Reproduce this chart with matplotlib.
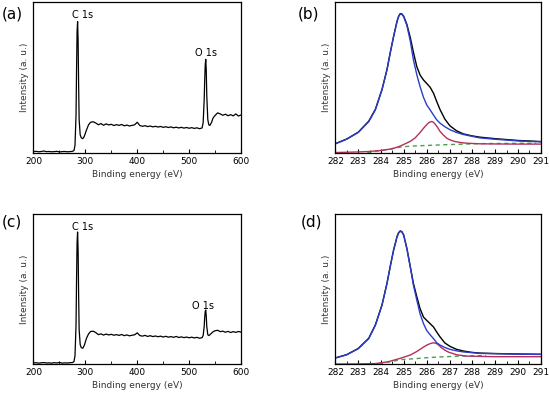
import matplotlib
matplotlib.use("Agg")
import matplotlib.pyplot as plt
from matplotlib.ticker import MultipleLocator

# ---- survey spectra (binding energy in eV, intensity in a.u.) ----
survey_x = [200, 205, 210, 215, 220, 225, 230, 235, 240, 245, 250, 255, 260, 265, 270, 275,
            278, 280, 282, 283, 284, 285, 286, 287, 288, 290, 292, 295, 298, 302, 306, 310,
            315, 320, 325, 330, 335, 340, 345, 350, 355, 360, 365, 370, 375, 380, 385, 390,
            395, 400, 405, 410, 415, 420, 425, 430, 435, 440, 445, 450, 455, 460, 465, 470,
            475, 480, 485, 490, 495, 500, 505, 510, 515, 520, 525, 527, 529, 530, 531, 532,
            533, 534, 536, 538, 540, 543, 546, 550, 555, 560, 565, 570, 575, 580, 585, 590,
            595, 600]
survey_a = [0.8, 1.0, 0.7, 0.9, 1.2, 0.8, 0.9, 0.7, 0.8, 1.0, 0.6, 0.8, 0.9, 0.7, 0.8, 1.0,
            1.5, 5.0, 25.0, 55.0, 80.0, 87.0, 75.0, 45.0, 22.0, 12.0, 10.0, 9.4, 11.0, 15.0, 18.5, 20.3,
            20.6, 19.8, 18.6, 19.4, 18.3, 19.2, 18.5, 18.9, 18.1, 18.7, 18.2, 18.8, 17.9, 18.4, 17.8, 18.2,
            18.6, 20.3, 18.1, 17.6, 18.0, 17.4, 17.8, 17.2, 17.6, 17.1, 17.5, 16.9, 17.3, 16.8, 17.2, 16.6,
            17.0, 16.5, 16.9, 16.4, 16.8, 16.3, 16.7, 16.2, 16.6, 16.0, 16.5, 20.0, 35.0, 48.0, 58.0, 62.0,
            55.0, 38.0, 22.0, 18.5, 18.2, 20.0, 23.0, 24.8, 26.5, 25.8, 24.9, 25.6, 24.6, 25.3, 24.5, 25.8,
            24.4, 25.1]
survey_c = [0.7, 0.9, 0.6, 0.8, 1.0, 0.7, 0.8, 0.6, 0.9, 0.7, 1.1, 0.6, 0.8, 0.7, 0.9, 1.0,
            1.6, 5.5, 26.0, 56.0, 81.0, 88.0, 76.0, 46.0, 23.0, 13.0, 11.0, 10.5, 12.5, 17.0, 20.0, 21.7,
            21.9, 21.0, 19.6, 20.1, 19.3, 20.0, 19.4, 19.8, 19.2, 19.6, 19.1, 19.7, 18.9, 19.4, 18.8, 19.2,
            19.5, 20.8, 19.0, 18.6, 19.1, 18.4, 18.9, 18.3, 18.7, 18.2, 18.6, 18.0, 18.5, 17.9, 18.3, 17.8,
            18.4, 17.7, 18.1, 17.6, 18.0, 17.5, 17.9, 17.4, 17.8, 17.2, 17.6, 19.0, 25.0, 31.0, 35.0, 36.0,
            32.0, 25.0, 19.5, 19.0, 19.5, 20.5, 21.5, 22.2, 22.5, 21.6, 21.9, 21.2, 21.8, 21.0, 21.6, 21.1,
            21.7, 21.3]

# ---- C 1s high resolution: shared energy grid for main peak and envelope ----
hr_x = [282.0, 282.5, 283.0, 283.46, 283.75, 284.04, 284.26, 284.4, 284.55, 284.7, 284.77, 284.84,
        284.91, 284.99, 285.13, 285.28, 285.42, 285.57, 285.71, 285.86, 286.0, 286.15, 286.3, 286.44,
        286.59, 286.8, 287.02, 287.31, 287.6, 287.97, 288.33, 289.0, 290.0, 291.0]

# panel (b)
b_main = [6.0, 9.1, 13.5, 20.7, 28.5, 41.7, 55.0, 66.0, 77.0, 87.0, 90.3, 92.0,
          91.8, 90.3, 84.5, 74.2, 61.5, 51.6, 43.9, 36.8, 31.8, 28.5, 25.0, 21.9,
          19.6, 17.3, 15.3, 13.5, 12.2, 11.0, 9.9, 9.0, 7.9, 7.3]
b_envelope = [6.1, 9.2, 13.7, 21.0, 28.8, 42.0, 55.3, 66.3, 77.3, 87.3, 90.6, 92.3,
              92.1, 90.6, 85.2, 76.5, 66.5, 57.0, 51.6, 48.3, 46.0, 43.5, 39.5, 34.0,
              28.5, 22.3, 17.9, 14.6, 12.6, 11.3, 10.4, 9.4, 8.2, 7.5]
b_sub_x = [282.0, 282.5, 283.0, 283.5, 284.0, 284.5, 284.84, 285.1, 285.3, 285.5, 285.7, 285.86,
           286.0, 286.1, 286.22, 286.3, 286.37, 286.48, 286.59, 286.73, 286.88, 287.05, 287.24, 287.5,
           287.75, 288.33, 289.0, 290.0, 291.0]
b_sub = [0.2, 0.4, 0.6, 0.9, 1.6, 2.7, 4.5, 6.3, 7.8, 10.0, 13.3, 16.3,
         18.7, 20.1, 20.8, 20.2, 19.0, 16.8, 14.1, 11.8, 9.7, 8.4, 7.5, 6.8,
         6.4, 6.0, 5.9, 5.8, 5.8]
b_bg_x = [283.4, 284.0, 284.5, 284.91, 285.5, 286.0, 286.5, 287.0, 287.5, 288.33, 289.0, 290.0, 290.8]
b_bg = [0.3, 1.5, 2.9, 4.0, 4.6, 4.9, 5.2, 5.5, 5.7, 6.1, 6.2, 6.3, 6.4]

# panel (d)
d_main = [4.0, 6.2, 10.2, 16.9, 25.8, 39.1, 53.6, 64.7, 75.8, 84.7, 87.3, 88.4,
          88.0, 85.8, 76.9, 64.7, 52.4, 42.4, 33.5, 26.9, 22.4, 19.5, 16.9, 14.2,
          12.6, 11.0, 9.8, 8.8, 8.1, 7.6, 7.1, 6.9, 6.6, 6.4]
d_envelope = [4.1, 6.3, 10.4, 17.2, 26.1, 39.4, 53.9, 65.0, 76.1, 85.0, 87.6, 88.7,
              88.3, 86.1, 77.2, 65.0, 53.6, 44.7, 36.9, 31.3, 29.1, 26.9, 24.7, 21.3,
              18.0, 14.0, 11.8, 9.8, 8.7, 7.8, 7.3, 7.0, 6.7, 6.5]
d_sub_x = [282.0, 283.0, 283.75, 284.3, 284.84, 285.28, 285.57, 285.86, 286.0, 286.15, 286.3, 286.44,
           286.55, 286.66, 286.8, 286.95, 287.31, 287.75, 288.33, 289.0, 290.0, 291.0]
d_sub = [0.0, 0.1, 0.3, 1.5, 3.8, 6.0, 8.4, 11.3, 12.6, 13.6, 14.2, 13.6,
         12.3, 10.7, 9.2, 8.0, 6.2, 5.3, 5.1, 4.9, 4.9, 4.9]
d_bg_x = [283.9, 284.4, 284.91, 285.5, 286.0, 286.5, 287.0, 287.5, 288.0, 288.6]
d_bg = [0.2, 1.5, 3.0, 3.6, 4.2, 4.7, 5.0, 5.3, 5.5, 5.7]

BLUE = "#2b3ccf"
RED = "#b4305c"
GREEN = "#4aa04a"
LABEL_C = "#333333"

plt.rcParams["font.family"] = ["DejaVu Sans"]
fig = plt.figure(figsize=(5.49, 3.97), dpi=100)


def style_axes(ax, xlim, major, minor):
    ax.set_xlim(*xlim)
    ax.set_ylim(0, 100)
    ax.xaxis.set_major_locator(MultipleLocator(major))
    ax.xaxis.set_minor_locator(MultipleLocator(minor))
    ax.set_yticks([])
    ax.tick_params(axis="x", which="both", direction="in", labelsize=6.5, pad=3)
    ax.tick_params(axis="x", which="major", length=3, width=0.8)
    ax.tick_params(axis="x", which="minor", length=2, width=0.6)
    for s in ax.spines.values():
        s.set_linewidth(0.9)
    ax.set_xlabel("Binding energy (eV)", fontsize=6.5, color=LABEL_C, labelpad=3)
    ax.set_ylabel("Intensity (a. u.)", fontsize=6.5, color=LABEL_C, labelpad=3)


ax_a = fig.add_axes([0.061, 0.615, 0.378, 0.380])
ax_b = fig.add_axes([0.611, 0.615, 0.374, 0.380])
ax_c = fig.add_axes([0.061, 0.083, 0.378, 0.378])
ax_d = fig.add_axes([0.611, 0.083, 0.374, 0.378])

for ax, ys, o_x, o_y in [(ax_a, survey_a, 533, 66), (ax_c, survey_c, 527, 39)]:
    ax.plot(survey_x, ys, color="black", lw=0.9)
    style_axes(ax, (200, 600), 100, 50)
    ax.text(294, 91.5, "C 1s", fontsize=7, ha="center", va="center")
    ax.text(o_x, o_y, "O 1s", fontsize=7, ha="center", va="center")

for ax, env, main, sx, sub, gx, bg in [
        (ax_b, b_envelope, b_main, b_sub_x, b_sub, b_bg_x, b_bg),
        (ax_d, d_envelope, d_main, d_sub_x, d_sub, d_bg_x, d_bg)]:
    ax.plot(gx, bg, color=GREEN, lw=1.0, ls=(0, (3, 2.5)))
    ax.plot(sx, sub, color=RED, lw=1.0)
    ax.plot(hr_x, env, color="black", lw=1.0)
    ax.plot(hr_x, main, color=BLUE, lw=1.0)
    style_axes(ax, (282, 291), 1, 0.5)

for label, x, y in [("(a)", 0.004, 0.965), ("(b)", 0.543, 0.965),
                    ("(c)", 0.004, 0.44), ("(d)", 0.548, 0.44)]:
    fig.text(x, y, label, fontsize=11, ha="left", va="center")

fig.savefig("out.png", dpi=100)
